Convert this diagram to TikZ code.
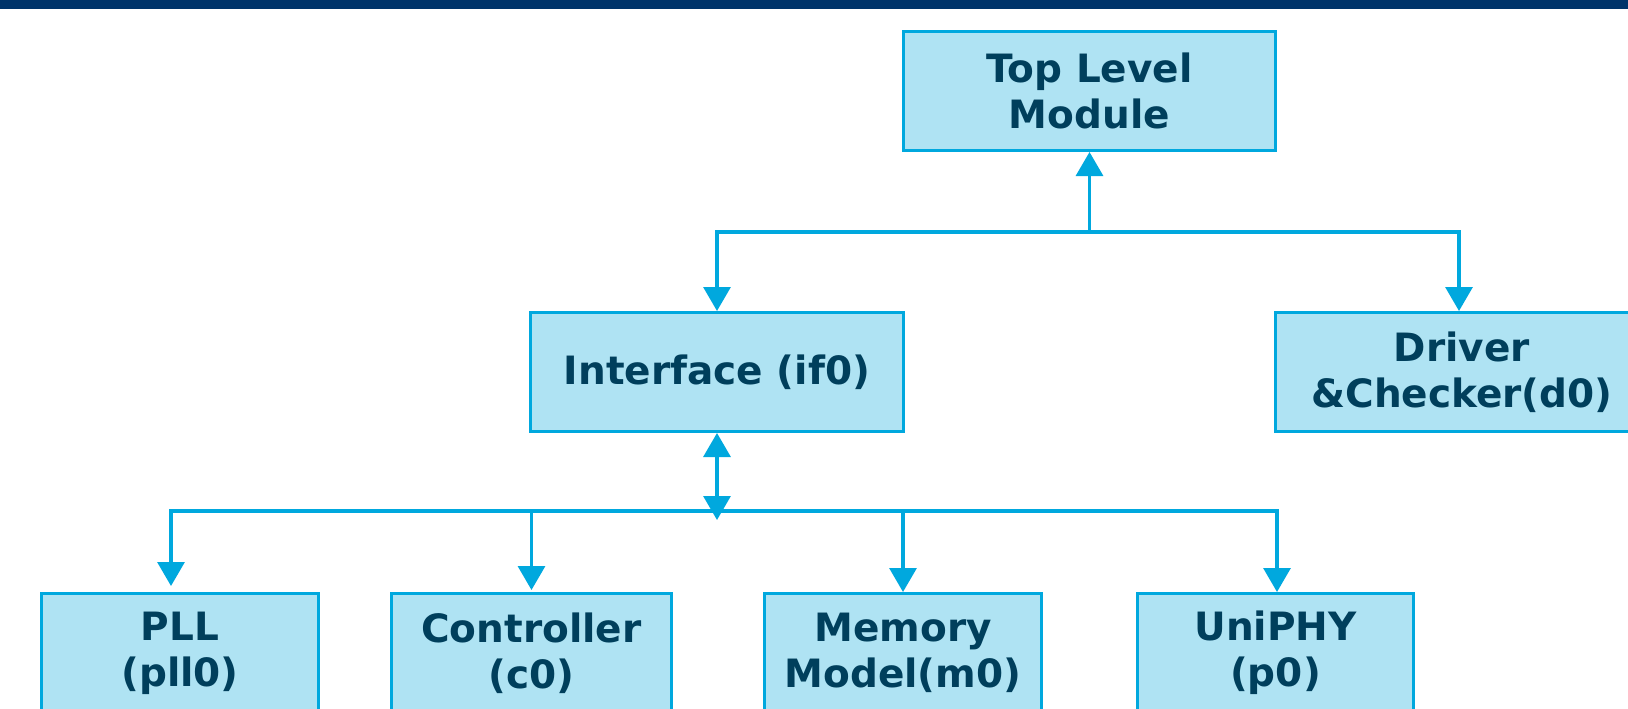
\documentclass[tikz,border=0pt]{standalone}
\usepackage{fontspec}
\setmainfont{DejaVu Sans}
\usetikzlibrary{arrows.meta}
\definecolor{barnavy}{RGB}{0,52,106}
\definecolor{linkblue}{RGB}{0,168,222}
\definecolor{boxfill}{RGB}{175,227,243}
\definecolor{labelink}{RGB}{0,63,92}
\begin{document}
\begin{tikzpicture}[x=1pt,y=-1pt,
  module/.style={draw=linkblue, line width=3pt, fill=boxfill, text=labelink,
    font=\fontsize{39}{46}\selectfont\bfseries, align=center,
    inner sep=0pt, minimum height=119pt},
  link/.style={draw=linkblue, line width=3.2pt},
  tip/.style={-{Triangle[width=27pt,length=24pt]}},
  twotip/.style={{Triangle[width=27pt,length=24pt]}-{Triangle[width=27pt,length=24pt]}}]
\useasboundingbox (0,0) rectangle (1628,709);
\clip (0,0) rectangle (1628,709);
\fill[white] (0,0) rectangle (1628,709);
% header band
\fill[barnavy] (0,0) rectangle (1628,9.5);

% modules
\node[module, minimum width=372pt] (top) at (1089.5,91) {Top Level\\Module};
\node[module, minimum width=373pt] (ifc) at (717,372) {Interface (if0)};
\node[module, minimum width=373pt] (drv) at (1462,372) {Driver\\\&Checker(d0)};
\node[module, minimum width=277pt] (pll) at (180,653) {PLL\\(pll0)};
\node[module, minimum width=280pt] (ctl) at (531.5,653) {Controller\\(c0)};
\node[module, minimum width=277pt] (mem) at (903,653) {Memory\\Model(m0)};
\node[module, minimum width=276pt] (phy) at (1275.5,653) {UniPHY\\(p0)};

% upper level
\coordinate (upj) at (1089.5,232);
\draw[link, tip] (upj) -- (top.south);
\draw[link, tip] (upj) -| (ifc.north);
\draw[link, tip] (upj) -| ([xshift=-3pt]drv.north);

% lower level bus
\coordinate (lowj) at (717,511);
\draw[link, twotip] (ifc.south) -- (ifc.south |- 0,520);
\draw[link, tip] (lowj) -| ([xshift=-9pt,yshift=6pt]pll.north);
\draw[link, tip] (lowj) -| ([xshift=1.5pt]phy.north);
\draw[link, tip] (ctl.north |- lowj) -- ([yshift=2pt]ctl.north);
\draw[link, tip] (mem.north |- lowj) -- (mem.north);
\end{tikzpicture}
\end{document}
